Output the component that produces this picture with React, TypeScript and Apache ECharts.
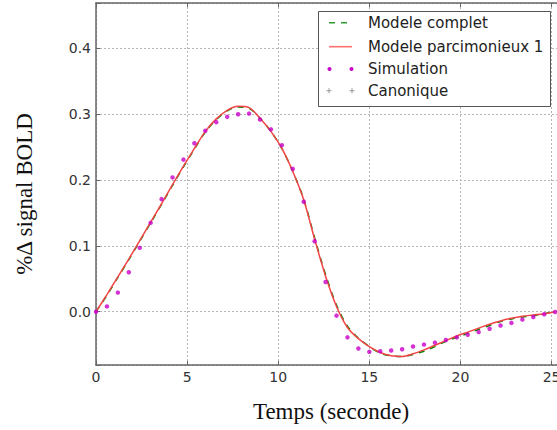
import React, { useEffect, useRef } from "react";
import * as echarts from "echarts";

const TIMES = [
  0, 0.6, 1.2, 1.8, 2.4, 3.0, 3.6, 4.2, 4.8, 5.4, 6.0, 6.6, 7.2, 7.8, 8.4, 9.0,
  9.6, 10.2, 10.8, 11.4, 12.0, 12.6, 13.2, 13.8, 14.4, 15.0, 15.6, 16.2, 16.8,
  17.4, 18.0, 18.6, 19.2, 19.8, 20.4, 21.0, 21.6, 22.2, 22.8, 23.4, 24.0, 24.6,
  25.2,
];

const SIMULATION = [
  0, 0.008, 0.029, 0.06, 0.097, 0.135, 0.171, 0.204, 0.231, 0.256, 0.275, 0.288,
  0.296, 0.3, 0.301, 0.292, 0.277, 0.253, 0.217, 0.167, 0.107, 0.045, -0.006,
  -0.039, -0.056, -0.061, -0.06, -0.059, -0.057, -0.053, -0.05, -0.047, -0.043,
  -0.039, -0.035, -0.031, -0.026, -0.021, -0.017, -0.012, -0.008, -0.004,
  -0.0005,
];

const MODELE_PARCIMONIEUX = [
  0, 0.026, 0.053, 0.08, 0.108, 0.136, 0.164, 0.193, 0.221, 0.248, 0.274, 0.293,
  0.306, 0.312, 0.31, 0.294, 0.274, 0.248, 0.213, 0.17, 0.11, 0.054, 0.008,
  -0.024, -0.041, -0.053, -0.062, -0.067, -0.068, -0.064, -0.058, -0.051,
  -0.044, -0.037, -0.031, -0.025, -0.019, -0.014, -0.01, -0.007, -0.005,
  -0.003, 0,
];

const MODELE_COMPLET = [
  0, 0.025, 0.052, 0.079, 0.107, 0.135, 0.163, 0.192, 0.22, 0.247, 0.273, 0.292,
  0.305, 0.311, 0.309, 0.294, 0.274, 0.248, 0.213, 0.171, 0.112, 0.056, 0.01,
  -0.022, -0.04, -0.053, -0.063, -0.067, -0.068, -0.065, -0.06, -0.053, -0.045,
  -0.039, -0.033, -0.027, -0.021, -0.015, -0.011, -0.008, -0.006, -0.003, 0,
];

const CANONIQUE: number[] = [];

const X_TICKS = [0, 5, 10, 15, 20, 25];
const Y_TICKS = [0.0, 0.1, 0.2, 0.3, 0.4];

const LEGEND_LABELS = [
  "Modele complet",
  "Modele parcimonieux 1",
  "Simulation",
  "Canonique",
];

const X_TITLE = "Temps (seconde)";
const Y_TITLE = "%Δ signal BOLD";

const pair = (ys: number[]) => TIMES.map((t, i) => [t, ys[i]]);

export default function App() {
  const ref = useRef<HTMLDivElement>(null);

  useEffect(() => {
    if (!ref.current) return;
    const chart = echarts.init(ref.current, undefined, { renderer: "svg" });

    const tickFont = { fontFamily: "DejaVu Sans", fontSize: 14, color: "#333" };
    const frame = { lineStyle: { color: "#666", width: 1.5 } };
    const grid = { lineStyle: { color: "#b5b5b5", type: [2, 2] as any, width: 1 } };

    const isTick = (v: number, list: number[]) =>
      list.some((t) => Math.abs(t - v) < 1e-6);

    const legX0 = 329;
    const legX1 = 352;
    const rowY = [22.7, 46.7, 69, 90.7];

    chart.setOption({
      animation: false,
      backgroundColor: "#ffffff",
      grid: {
        left: 96,
        top: 3,
        right: 0,
        bottom: 65,
        containLabel: false,
        outerBoundsMode: "none",
      },
      xAxis: [
        {
          type: "value",
          min: 0,
          max: 25.3,
          interval: 5,
          axisLine: { show: true, onZero: false, ...frame },
          axisTick: { show: true, inside: true, length: 4, lineStyle: { color: "#666" } },
          axisLabel: {
            ...tickFont,
            margin: 5,
            showMaxLabel: false,
            formatter: (v: number) => (isTick(v, X_TICKS) ? String(v) : ""),
          },
          splitLine: { show: true, ...grid },
        },
        {
          type: "value",
          position: "top",
          min: 0,
          max: 25.3,
          interval: 5,
          axisLine: { show: true, onZero: false, ...frame },
          axisTick: { show: true, inside: true, length: 4, lineStyle: { color: "#666" } },
          axisLabel: { show: false },
          splitLine: { show: false },
        },
      ],
      yAxis: {
        type: "value",
        min: -0.081,
        max: 0.469,
        splitNumber: 5,
        axisLine: { show: true, onZero: false, ...frame },
        axisTick: { show: true, inside: true, length: 4, lineStyle: { color: "#666" } },
        axisLabel: {
          ...tickFont,
          margin: 5,
          formatter: (v: number) => (isTick(v, Y_TICKS) ? v.toFixed(1) : ""),
        },
        splitLine: { show: true, ...grid },
      },
      series: [
        {
          name: LEGEND_LABELS[0],
          type: "line",
          data: pair(MODELE_COMPLET),
          showSymbol: false,
          smooth: 0.3,
          clip: false,
          lineStyle: { color: "#008000", width: 1.5, type: [6, 6] as any },
          z: 2,
        },
        {
          name: LEGEND_LABELS[1],
          type: "line",
          data: pair(MODELE_PARCIMONIEUX),
          showSymbol: false,
          smooth: 0.3,
          clip: false,
          lineStyle: { color: "#f24444", width: 1.5 },
          z: 3,
        },
        {
          name: LEGEND_LABELS[2],
          type: "scatter",
          data: pair(SIMULATION),
          symbol: "circle",
          symbolSize: 4.5,
          clip: false,
          itemStyle: { color: "#c800c8" },
          z: 4,
        },
        {
          name: LEGEND_LABELS[3],
          type: "scatter",
          data: CANONIQUE,
          symbol: "path://M0,5L10,5M5,0L5,10",
          symbolSize: 6,
          itemStyle: { color: "#888" },
          z: 5,
        },
      ],
      graphic: [
        {
          type: "rect",
          shape: { x: 318.5, y: 11.5, width: 232, height: 95 },
          style: { fill: "#ffffff", stroke: "#555", lineWidth: 1 },
          z: 100,
        },
        {
          type: "line",
          shape: { x1: legX0, y1: rowY[0], x2: legX1, y2: rowY[0] },
          style: { stroke: "#2f9a2f", lineWidth: 1.5, lineDash: [6, 6] },
          z: 101,
        },
        {
          type: "line",
          shape: { x1: legX0, y1: rowY[1], x2: legX1, y2: rowY[1] },
          style: { stroke: "#ff7070", lineWidth: 1.6 },
          z: 101,
        },
        {
          type: "circle",
          shape: { cx: legX0 + 0.5, cy: rowY[2], r: 2 },
          style: { fill: "#c800c8" },
          z: 101,
        },
        {
          type: "circle",
          shape: { cx: legX1 - 0.5, cy: rowY[2], r: 2 },
          style: { fill: "#c800c8" },
          z: 101,
        },
        {
          type: "line",
          shape: { x1: legX0 - 2.5, y1: rowY[3], x2: legX0 + 2.5, y2: rowY[3] },
          style: { stroke: "#999", lineWidth: 1 },
          z: 101,
        },
        {
          type: "line",
          shape: { x1: legX0, y1: rowY[3] - 2.5, x2: legX0, y2: rowY[3] + 2.5 },
          style: { stroke: "#999", lineWidth: 1 },
          z: 101,
        },
        {
          type: "line",
          shape: { x1: legX1 - 2.5, y1: rowY[3], x2: legX1 + 2.5, y2: rowY[3] },
          style: { stroke: "#999", lineWidth: 1 },
          z: 101,
        },
        {
          type: "line",
          shape: { x1: legX1, y1: rowY[3] - 2.5, x2: legX1, y2: rowY[3] + 2.5 },
          style: { stroke: "#999", lineWidth: 1 },
          z: 101,
        },
        ...LEGEND_LABELS.map((label, i) => ({
          type: "text",
          x: 368,
          y: rowY[i],
          z: 101,
          style: {
            text: label,
            fill: "#222",
            fontFamily: "DejaVu Sans",
            fontSize: 15,
            align: "left",
            verticalAlign: "middle",
          },
        })),
        {
          type: "text",
          x: 331,
          y: 411,
          style: {
            text: X_TITLE,
            fill: "#111",
            fontFamily: "Liberation Serif",
            fontSize: 23,
            align: "center",
            verticalAlign: "middle",
          },
        },
        {
          type: "text",
          x: 24,
          y: 194,
          rotation: Math.PI / 2,
          style: {
            text: Y_TITLE,
            fill: "#111",
            fontFamily: "Liberation Serif",
            fontSize: 23,
            align: "center",
            verticalAlign: "middle",
          },
        },
      ],
    });

    return () => chart.dispose();
  }, []);

  return (
    <div
      ref={ref}
      style={{ position: "fixed", left: 0, top: 0, width: 557, height: 430, overflow: "hidden" }}
    />
  );
}
